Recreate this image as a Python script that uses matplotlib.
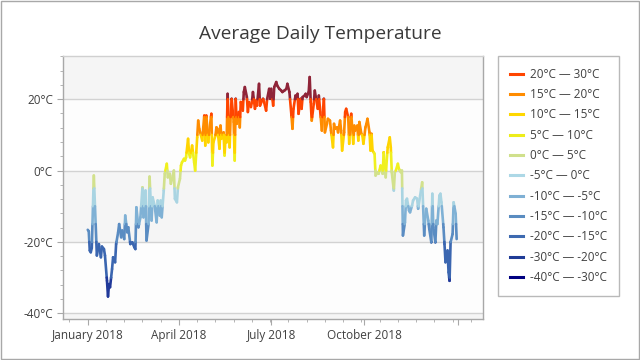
import numpy as np
import pandas as pd
import matplotlib
matplotlib.use('Agg')
import matplotlib.pyplot as plt
import matplotlib.dates as mdates
from matplotlib.collections import LineCollection
from matplotlib.lines import Line2D
from matplotlib.patches import Rectangle
from matplotlib.ticker import AutoMinorLocator, MultipleLocator

# day of year 2018 (0 = Jan 1) and average temperature
day = [0, 1, 2, 3, 4, 6, 9, 11, 13, 14, 16, 17, 19, 20, 21, 22, 24, 25, 27, 28,
       30, 31, 33, 34, 36, 37, 39, 40, 42, 44, 46, 47, 48, 50, 52, 54, 55, 57, 58, 60,
       61, 63, 64, 66, 68, 69, 71, 72, 73, 75, 76, 78, 79, 81, 82, 84, 85, 86, 88, 89,
       91, 92, 93, 95, 96, 97, 99, 100, 101, 103, 105, 106, 108, 109, 110, 111, 113, 114, 115, 116,
       117, 119, 120, 122, 123, 124, 126, 127, 128, 130, 131, 132, 134, 135, 136, 137, 138, 140, 141, 142,
       144, 145, 146, 147, 149, 150, 151, 153, 154, 155, 157, 158, 159, 161, 162, 163, 165, 166, 167, 169,
       170, 172, 173, 174, 176, 177, 179, 180, 181, 183, 184, 186, 187, 189, 191, 192, 194, 196, 197, 199,
       201, 202, 203, 205, 206, 207, 208, 210, 211, 212, 214, 215, 216, 218, 219, 220, 221, 223, 224, 225,
       227, 228, 229, 231, 232, 233, 234, 236, 237, 239, 240, 242, 243, 244, 246, 247, 249, 250, 251, 253,
       254, 255, 257, 258, 259, 260, 262, 263, 264, 266, 267, 268, 270, 271, 272, 274, 275, 276, 278, 279,
       280, 281, 283, 284, 286, 287, 289, 291, 292, 294, 295, 296, 298, 299, 300, 302, 303, 304, 306, 307,
       309, 310, 311, 313, 314, 315, 317, 318, 320, 321, 323, 325, 326, 328, 329, 330, 332, 333, 334, 336,
       337, 339, 340, 341, 343, 344, 345, 347, 348, 349, 351, 352, 353, 355, 356, 357, 358, 360, 361, 363,
       364]
temp = [-16.6, -17.0, -22.4, -22.9, -21.7, -1.4, -23.8, -20.6, -24.3, -21.3, -22.0, -23.8, -30.9, -35.3, -31.8, -32.7, -27.6, -24.3, -25.7, -20.6,
        -17.3, -15.0, -18.7, -16.8, -19.2, -12.6, -17.3, -15.9, -20.6, -20.1, -21.5, -22.0, -10.3, -15.9, -13.1, -4.7, -13.1, -5.6, -19.6, -15.0,
        -1.7, -14.0, -7.5, -9.8, -14.5, -8.4, -12.6, -8.4, -13.1, -5.6, -0.9, 1.9, -1.9, -0.9, -3.7, -1.4, 0.0, -7.9, -8.9, -4.7,
        -2.3, 1.4, 2.3, 3.3, 2.8, 3.7, 8.9, 4.7, 3.7, 7.0, 2.3, 0.0, 9.3, 14.0, 11.7, 10.7, 8.4, 12.1, 15.4, 7.0,
        15.4, 7.9, 11.2, 15.9, 1.4, 7.9, 9.8, 12.1, 11.7, 6.1, 12.6, 8.9, 10.7, 4.2, 9.8, 7.9, 21.5, 6.5, 15.4, 20.1,
        13.6, 2.8, 20.1, 13.1, 16.4, 12.1, 19.2, 16.8, 22.0, 23.4, 20.6, 16.4, 19.2, 17.8, 19.2, 22.0, 17.3, 19.6, 18.2, 24.3,
        18.2, 19.6, 20.1, 19.2, 16.8, 20.0, 22.9, 20.1, 22.9, 18.2, 23.4, 24.8, 23.8, 22.9, 22.4, 22.0, 22.4, 22.9, 24.3, 22.0,
        15.4, 11.7, 17.3, 21.0, 20.1, 21.5, 15.9, 20.1, 17.3, 20.6, 21.0, 21.5, 20.6, 22.0, 26.2, 19.2, 14.0, 18.7, 22.4, 20.6,
        17.3, 21.0, 17.8, 11.2, 16.4, 20.1, 10.7, 13.1, 14.5, 14.0, 11.2, 6.5, 13.1, 11.7, 12.1, 10.7, 14.0, 11.2, 5.6, 10.7,
        16.4, 17.3, 14.9, 7.5, 13.1, 15.9, 7.5, 12.6, 11.2, 12.6, 8.4, 13.6, 10.3, 9.8, 7.5, 12.1, 13.1, 14.5, 10.7, 5.6,
        10.3, 5.6, 4.7, -1.4, -0.5, -0.9, 1.4, -0.9, 5.1, -1.9, 2.8, 6.5, 9.3, 6.5, -0.5, -5.6, -0.5, 0.0, 1.9, 0.5,
        -0.5, 0.0, -18.2, -14.5, -8.4, -7.9, -11.2, -11.7, -9.8, -8.4, -7.5, -7.9, -10.7, -7.0, -5.1, -3.3, -18.2, -13.1, -10.7, -14.0,
        -16.4, -20.1, -6.5, -15.9, -20.1, -14.0, -15.0, -7.0, -6.5, -8.9, -15.9, -20.6, -25.7, -22.4, -28.5, -30.9, -20.1, -17.8, -8.9, -12.1,
        -19.2]

# colour bands (bottom to top)
bands = [-40, -30, -20, -15, -10, -5, 0, 5, 10, 15, 20, 30]
line_colors = ['#21399a', '#3b66b0', '#5a8cc2', '#7fb1d5', '#a9d4e2', '#d2e18c',
               '#f0f01e', '#ffd400', '#ff8c00', '#ff4500', '#8f2438']
legend_labels = ['20°C — 30°C', '15°C — 20°C', '10°C — 15°C', '5°C — 10°C', '0°C — 5°C',
                 '-5°C — 0°C', '-10°C — -5°C', '-15°C — -10°C', '-20°C — -15°C',
                 '-30°C — -20°C', '-40°C — -30°C']
legend_colors = ['#ff4500', '#ff8c00', '#ffd700', '#eded1a', '#d0e08c', '#add8e6',
                 '#7fb0d4', '#5a8cc0', '#3e6ab0', '#203c96', '#000080']

tick_dates = ['2018-01-01', '2018-04-01', '2018-07-01', '2018-10-01', '2019-01-01']
tick_labels = ['January 2018', 'April 2018', 'July 2018', 'October 2018', '']

plt.rcParams['font.family'] = ['Open Sans', 'DejaVu Sans']
text_color = '#404040'
edge = '#a8a8a8'

dates = pd.Timestamp('2018-01-01') + pd.to_timedelta(day, unit='D')
x = mdates.date2num(dates.to_pydatetime())
y = np.array(temp)

# split the line where it crosses a band edge so each piece gets one colour
segs, cols = [], []
for i in range(len(x) - 1):
    x0, x1, y0, y1 = x[i], x[i + 1], y[i], y[i + 1]
    lo, hi = min(y0, y1), max(y0, y1)
    ts = [0.0] + sorted((b - y0) / (y1 - y0) for b in bands if lo < b < hi) + [1.0]
    for a, b in zip(ts[:-1], ts[1:]):
        pa = (x0 + a * (x1 - x0), y0 + a * (y1 - y0))
        pb = (x0 + b * (x1 - x0), y0 + b * (y1 - y0))
        k = np.searchsorted(bands, (pa[1] + pb[1]) / 2, side='right') - 1
        k = min(max(k, 0), len(line_colors) - 1)
        segs.append([pa, pb])
        cols.append(line_colors[k])

fig = plt.figure(figsize=(6.4, 3.6), dpi=100)
ax = fig.add_axes([62.7 / 640, 1 - 319 / 360, 420 / 640, 263 / 360])

# interlaced background strips
for lo_, hi_ in [(-60, -40), (-20, 0), (20, 40)]:
    ax.axhspan(lo_, hi_, color='#f5f5f5', zorder=0, lw=0)
ax.set_facecolor('#fdfdfd')

lc = LineCollection(segs, colors=cols, linewidths=1.9, capstyle='round', joinstyle='round', zorder=3)
ax.add_collection(lc)

x_left = mdates.date2num(pd.Timestamp('2018-01-01')) - 24.7
x_right = mdates.date2num(pd.Timestamp('2019-01-01')) + 24.7
ax.set_xlim(x_left, x_right)
ax.set_ylim(-41.6, 32.1)

ax.yaxis.set_major_locator(MultipleLocator(20))
ax.yaxis.set_minor_locator(AutoMinorLocator(5))
ax.yaxis.set_major_formatter(plt.FuncFormatter(lambda v, p: '%d°C' % v))
ax.set_xticks(mdates.date2num(pd.to_datetime(tick_dates).to_pydatetime()))
ax.set_xticklabels(tick_labels)
ax.xaxis.set_minor_locator(AutoMinorLocator(5))

ax.grid(axis='y', which='major', color='#d2d2d2', lw=1, zorder=1)
ax.set_axisbelow(True)
for s in ax.spines.values():
    s.set_color(edge)
    s.set_linewidth(1)
ax.spines['top'].set_color('#d0d0d0')
ax.tick_params(which='major', length=4, color=edge, labelcolor=text_color, labelsize=8.5)
ax.tick_params(which='minor', length=2.5, color=edge)
ax.tick_params(axis='x', pad=3)
ax.tick_params(axis='y', pad=3)

fig.text(0.5, 1 - 34 / 360, 'Average Daily Temperature', ha='center', va='center',
         fontsize=13.8, color='#3a3a3a')

handles = [Line2D([], [], color=c, lw=2.2) for c in legend_colors]
leg = fig.legend(handles, legend_labels, loc='upper left',
                 bbox_to_anchor=(498 / 640, 1 - 56 / 360), fontsize=8.5,
                 frameon=True, fancybox=False, handlelength=1.1, handletextpad=0.6,
                 labelspacing=0.62, borderpad=1.0, borderaxespad=0)
leg.get_frame().set_edgecolor(edge)
leg.get_frame().set_linewidth(1)
for t in leg.get_texts():
    t.set_color(text_color)

fig.patches.append(Rectangle((0.0008, 0.0014), 0.9984, 0.9972, transform=fig.transFigure,
                             fill=False, edgecolor=edge, lw=1))

fig.savefig('out.png', dpi=100)
